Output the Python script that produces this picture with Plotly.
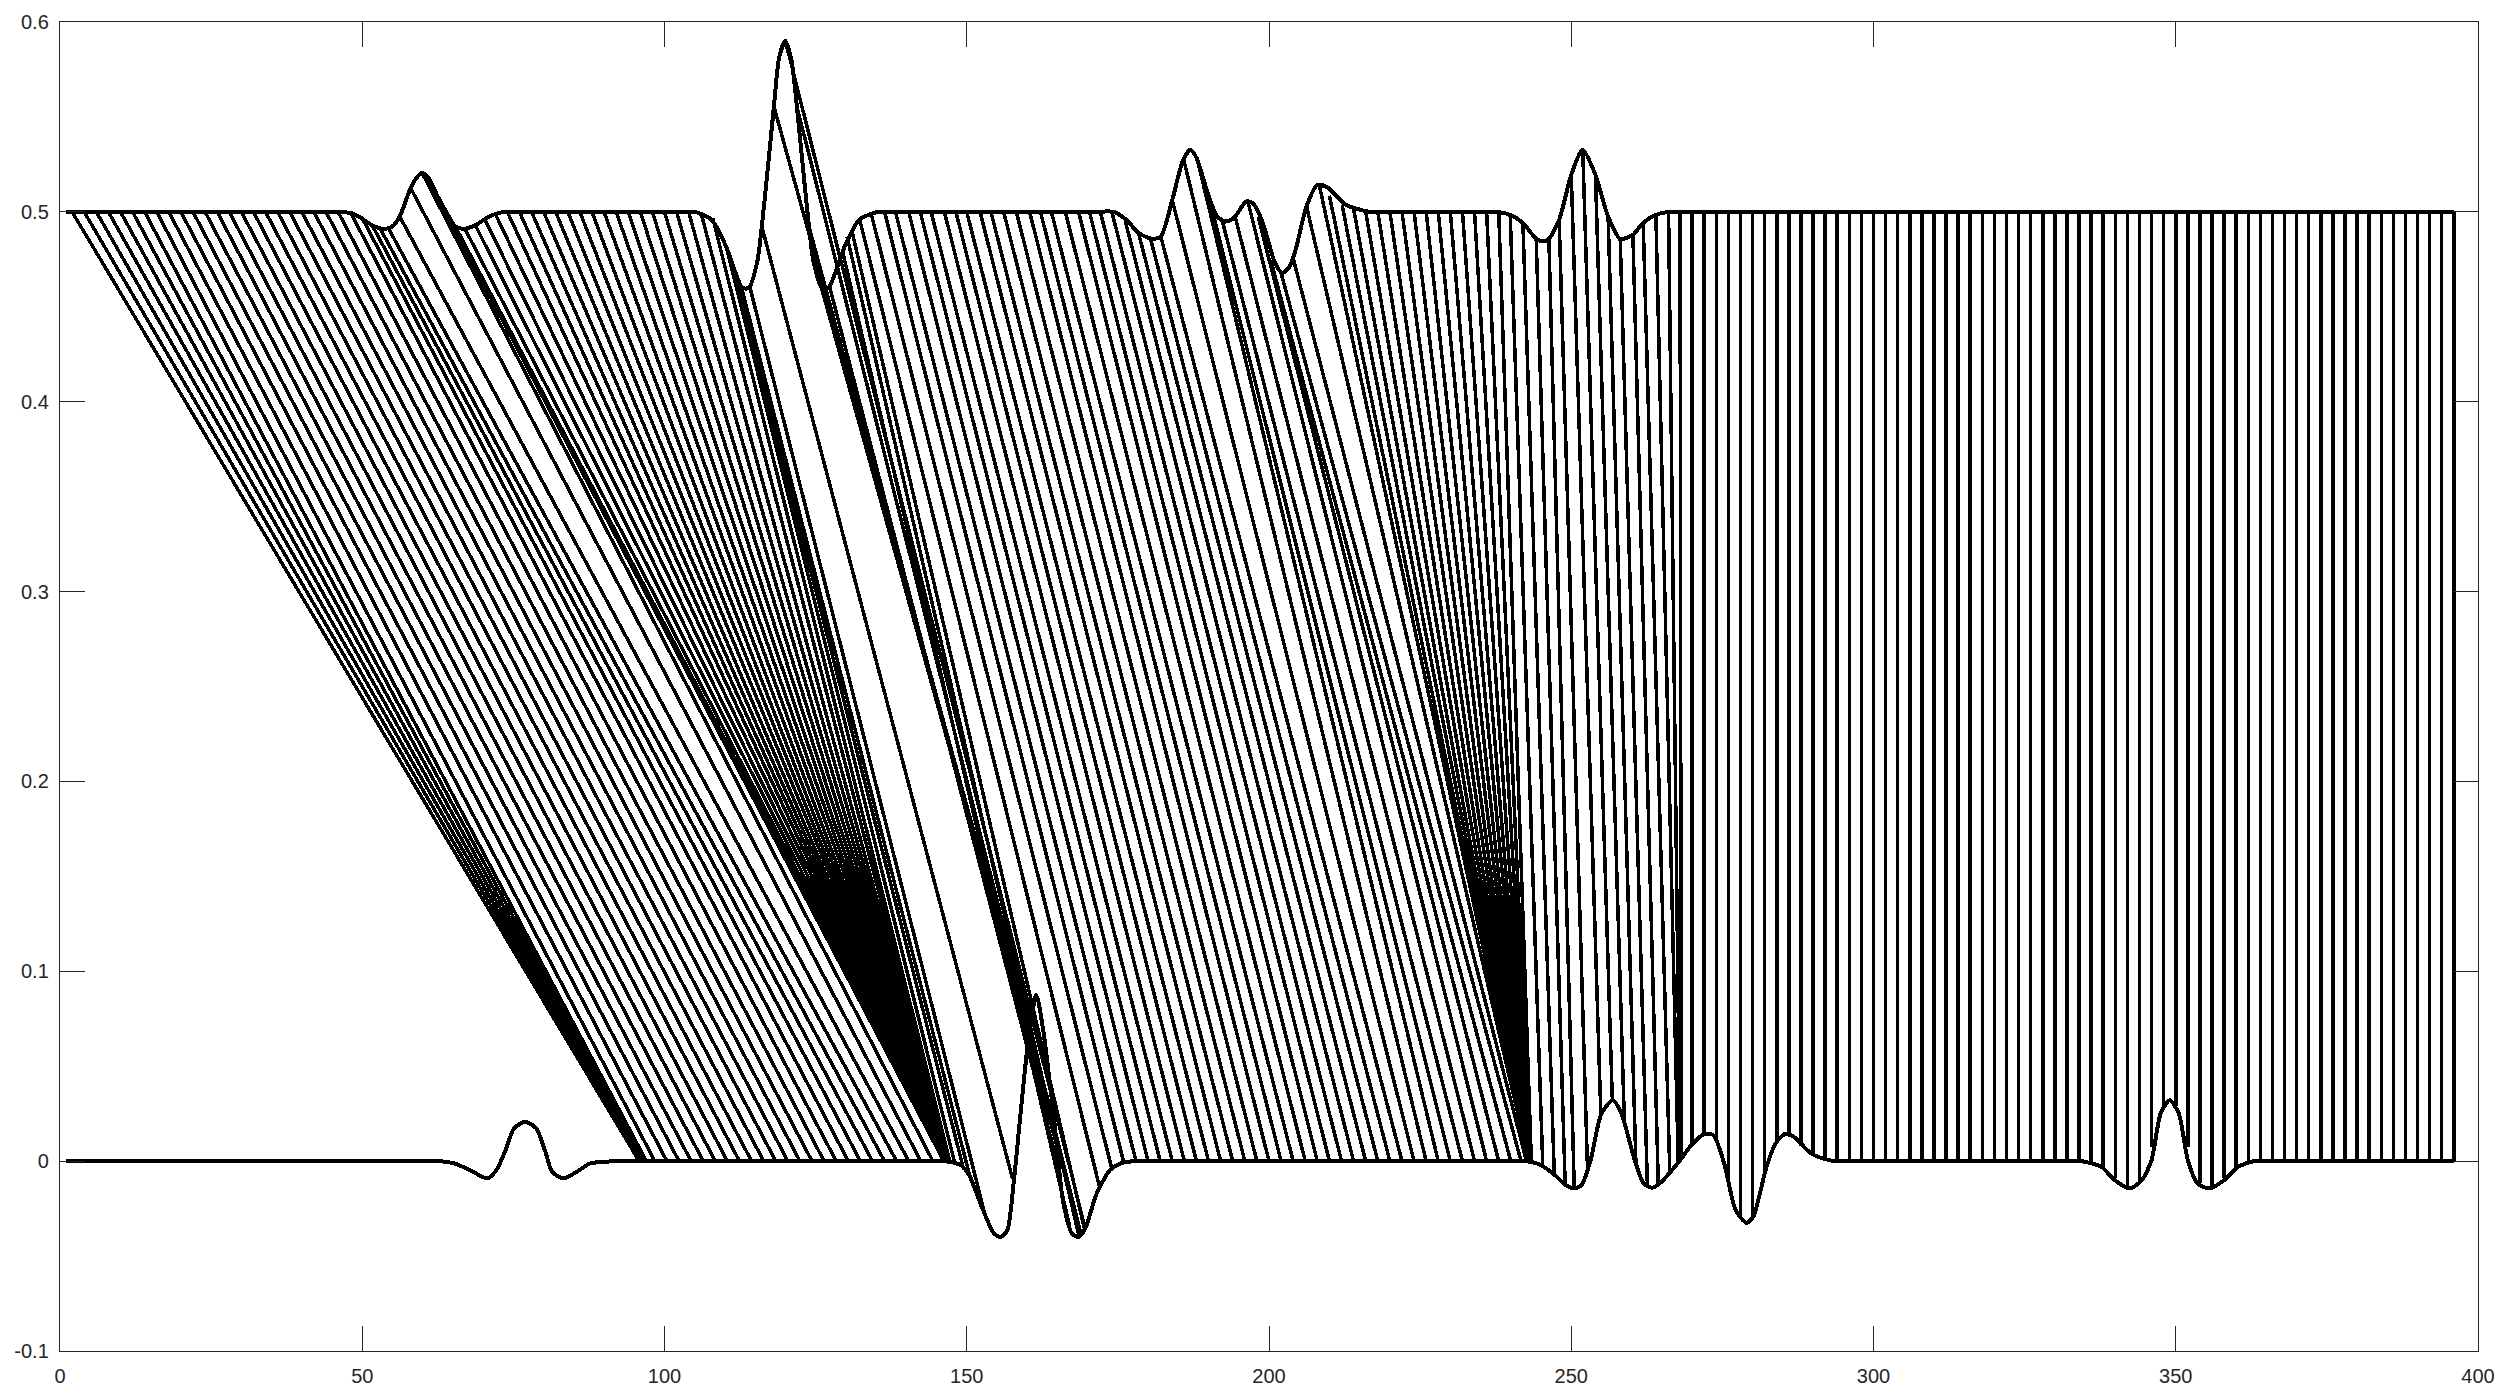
import plotly.graph_objects as go

# Upper and lower profile curves
upper_x = [1,40,44,46.5,48.5,49.9,51.5,53.5,55,56.2,58,59,59.9,61,62.5,64,65.4,66.9,68.7,71.3,73.5,76,79,99,102.5,105,107.8,110.2,112.7,113.4,114.1,115.4,116.1,116.9,118.1,119,120,121,121.9,123.1,123.9,124.6,125.9,126.6,127.3,129.8,132.2,135.3,137.5,140,168,171.5,174.3,176.5,178.4,180.6,182.1,184,185.8,187,188,190.1,191.4,192.8,194.2,196.2,197.3,198.8,201,202.2,203.4,204.4,206.2,208,209.8,212.7,216.7,219,222,231,235,237.8,239.9,242,244.2,245.4,246.3,248,250,251.9,254,256.1,258.1,260.2,261.9,264,266.1,268.5,272,396]
upper_y = [.5,.5,.5,.5,.499,.4966,.4932,.491,.4924,.4975,.5126,.518,.5205,.5178,.508,.4994,.4923,.491,.493,.498,.5,.5,.5,.5,.5,.5,.4958,.4817,.4607,.4595,.4607,.4747,.4923,.5169,.5555,.5819,.59,.58,.5555,.5169,.4923,.4747,.4607,.4595,.4607,.4817,.4958,.5,.5,.5,.5,.5,.5,.4955,.4889,.4858,.487,.5063,.5274,.5327,.5285,.5075,.4976,.4949,.4968,.5054,.5047,.4958,.4731,.4678,.4712,.48,.5028,.5142,.5126,.5037,.5,.5,.5,.5,.5,.5,.4984,.4942,.4858,.4845,.4858,.4958,.5195,.5327,.5195,.4975,.4858,.4879,.4942,.4984,.5,.5,.5,.5]

lower_x = [1,56,60,62.6,65.2,67.8,70.7,72.2,73.7,75.1,77,78.8,80.3,81.4,83.3,85.5,87.7,89.9,92.1,95,98,140,143.5,146.3,149,150.4,152.6,154.5,155.6,156.7,157.8,158.9,160,161.5,162.6,164.4,165.9,167.4,168.5,169.6,171.5,173.7,175.5,177.7,180,183,235,239,242.5,245,247.3,249.1,250.4,251.7,253.2,255,256.9,258.3,260.5,262,263.3,264.6,267.6,270.1,272,273.5,275.3,277.2,279,280.1,282.3,283.8,285.3,286.8,289.7,292.7,294.2,297,300,328,331.5,334.4,337.7,339.9,342.4,344.4,346,347.5,349,350.5,352,353.6,355.6,358,360.3,363,365.5,369,396]
lower_y = [0,0,0,0,-.0012,-.0047,-.0091,-.0047,.0058,.0172,.0207,.0172,.0049,-.0056,-.0091,-.0056,-.0012,-.0004,0,0,0,0,0,0,-.0021,-.0074,-.025,-.0381,-.0399,-.0364,-.01,.025,.0585,.0875,.07,.0234,-.0205,-.0381,-.0399,-.0355,-.017,-.0047,-.0012,0,0,0,0,0,0,-.0021,-.0074,-.0126,-.0144,-.0126,.0005,.0251,.0321,.0251,.0005,-.0118,-.014,-.0118,-.0012,.0093,.0142,.0137,-.0012,-.0258,-.0325,-.0293,-.003,.0093,.0142,.0128,.004,.0005,0,0,0,0,0,0,-.003,-.01,-.0144,-.01,.0005,.0251,.0321,.0251,.0005,-.0118,-.0144,-.01,-.003,0,0,0,0]

# Connecting lines: start on the upper curve, end on the lower curve
top_x = [2,4,6,8,10,12,14,16,18,20,22,24,26,28,30,32,34,36,38,40,42,44,46,48,50,51.6,53,54.3,56.2,58,59.9,61.8,64,65.4,67,68.7,70.2,72,74,76,78,80,82,84,86,88,90,92,94,96,98,100,102,104,106,108,110.2,111.6,112.7,114.1,116.1,118.1,120,121.9,123.9,125.9,127.3,129.4,130.2,131,
132.3,134.2,136.4,138.2,140.4,142.3,144.1,146.3,148.2,150,152.2,154,156.1,158.2,160.4,162.2,164,166.3,168.5,170.3,172.1,174,176.2,178.4,180.4,182.1,184,185.9,188,190.1,192.3,194.4,196.5,198.2,200.3,202,204,206.2,208.3,210,212.1,214,216,218,220,222,224,226,228,230,232,234,236,238,
239.9,242,244.2,246.3,248,250,251.9,254,256.1,258.1,260.2,261.9,264,266.1,268,270,272,274,276,278,280,282,284,286,288,290,292,294,296,298,300,302,304,306,308,310,312,314,316,318,320,322,324,326,328,330,332,334,336,338,340,342,344,346,348,350,352,354,356,358,360,362,364,366,368,370,372,374,376,378,380,382,384,386,388,390,392,394,396]
top_y = [.5,.5,.5,.5,.5,.5,.5,.5,.5,.5,
.5,.5,.5,.5,.5,.5,.5,.5,.5,.5,
.5,.5,.5,.5,.4966,.4932,.491,.4915,.4975,.5126,
.5205,.512,.4994,.4923,.491,.493,.4965,.499,.5,.5,
.5,.5,.5,.5,.5,.5,.5,.5,.5,.5,
.5,.5,.5,.5,.5,.4965,.4817,.468,.4607,.4607,
.4923,.5555,.59,.5555,.4923,.4607,.4607,.48,.487,.49,
.4958,.499,.5,.5,.5,.5,.5,.5,.5,.5,
.5,.5,.5,.5,.5,.5,.5,.5,.5,.5,
.5,.5,.4955,.489,.4858,.487,.5063,.5274,.5295,.5075,
.495,.4975,.5055,.4975,.4745,.4678,.4755,.503,.5145,.5085,
.5035,.5015,.5,.5,.5,.5,.5,.5,.5,.5,.5,.5,.5,.5,
.4984,.4942,.4858,.4858,.4958,.5195,.5327,.5195,.4975,.4858,.4879,.4942,.4984,.5,.5,
.5,.5,.5,.5,.5,.5,.5,.5,.5,.5,
.5,.5,.5,.5,.5,.5,.5,.5,.5,.5,
.5,.5,.5,.5,.5,.5,.5,.5,.5,.5,
.5,.5,.5,.5,.5,.5,.5,.5,.5,.5,
.5,.5,.5,.5,.5,.5,.5,.5,.5,.5,
.5,.5,.5,.5,.5,.5,.5,.5,.5,.5,
.5,.5,.5,.5]
bottom_x = [95.8,96,96.2,96.4,96.6,96.8,97,98.4,100.4,102.4,104.4,106.4,108.4,110.4,112.4,114.4,116.4,118.4,120.4,122.4,124.4,126.4,128.4,130.4,132.4,134.4,136.4,138.4,140.4,142.4,144.4,146.2,146.6,146.7,146.8,146.85,146.9,146.9,146.9,146.9,146.9,146.9,146.95,146.95,146.95,146.95,147,147,147,147,147,147,147,147,147.1,147.2,148,149.5,150.5,153,157.6,164.5,169.6,169,165,164.6,165.4,167,168.6,169.5,
172,174,176,178,180,182,184,186,188,190,192,194,196,198,200,202,204,206,208,210,212,214,216,218,220,222,224,226,228,230,232,234,236,238,240,241.7,242.6,243,243,243,243,243,243.05,243.05,243.1,243.1,243.15,243.15,243.2,243.2,243.25,243.3,243.3,243.4,
245.3,247.2,249,250.5,252.7,254.9,256.8,258.8,260.7,262.6,264.4,266.3,267.7,268,268.2,270,272,274,276,278,280,282,284,286,288,290,292,294,296,298,300,302,304,306,308,310,312,314,316,318,320,322,324,326,328,330,332,334,336,338,340,342,344,346,348,350,352,354,356,358,360,362,364,366,368,370,372,374,376,378,380,382,384,386,388,390,392,394,396]
bottom_y = [0,0,0,0,0,0,0,0,0,0,
0,0,0,0,0,0,0,0,0,0,
0,0,0,0,0,0,0,0,0,0,
0,0,0,0,0,0,0,0,0,0,
0,0,0,0,0,0,0,0,0,0,
0,0,0,0,0,0,-.0007,-.0045,-.0078,-.028,
-.0095,.02,-.0355,-.0395,.007,.018,-.006,-.034,-.04,-.036,
-.014,-.004,-.001,0,0,0,0,0,0,0,
0,0,0,0,0,0,0,0,0,0,
0,0,0,0,0,0,0,0,0,0,
0,0,0,0,0,0,0,0,0,0,
0,0,0,0,0,0,0,0,0,0,
0,0,0,0,
-.003,-.0072,-.0125,-.0144,-.005,.024,.032,.02,-.001,-.013,-.012,-.005,-.0015,-.0005,.001,
.009,.0142,.012,-.01,-.03,-.03,-.007,.01,.0135,.008,.0035,.001,
0,0,0,0,0,0,0,0,0,0,0,0,0,0,0,0,0,0,0,0,0,
-.001,-.0035,-.009,-.0144,-.0115,.0075,.029,.029,.0075,-.0115,-.0144,-.009,-.0035,-.001,
0,0,0,0,0,0,0,0,0,0,0,0,0,0,0,0,0]

assert len(top_x) == len(top_y) == len(bottom_x) == len(bottom_y), (len(top_x), len(top_y), len(bottom_x), len(bottom_y))
assert len(upper_x) == len(upper_y) and len(lower_x) == len(lower_y), (len(upper_x), len(upper_y), len(lower_x), len(lower_y))

x_ticks = [0,50,100,150,200,250,300,350,400]
y_ticks = [-.1,0,.1,.2,.3,.4,.5,.6]
y_labels = ["-0.1","0","0.1","0.2","0.3","0.4","0.5","0.6"]

seg_x, seg_y = [], []
for a, b, c, d in zip(top_x, top_y, bottom_x, bottom_y):
    seg_x += [a, c, None]
    seg_y += [b, d, None]

fig = go.Figure()
fig.add_trace(go.Scatter(x=seg_x, y=seg_y, mode="lines", line=dict(color="black", width=3.5), hoverinfo="skip"))
fig.add_trace(go.Scatter(x=upper_x, y=upper_y, mode="lines", line=dict(color="black", width=4, shape="spline", smoothing=0.7), hoverinfo="skip"))
fig.add_trace(go.Scatter(x=lower_x, y=lower_y, mode="lines", line=dict(color="black", width=4, shape="spline", smoothing=0.7), hoverinfo="skip"))

axis = dict(showgrid=False, zeroline=False, showline=True, linecolor="#262626", linewidth=1.4,
            mirror="ticks", ticks="inside", ticklen=25, tickwidth=1.4, tickcolor="#262626",
            tickfont=dict(family="Liberation Sans", size=20, color="#262626"))
fig.update_xaxes(range=[0, 400], tickvals=x_ticks, ticktext=[str(v) for v in x_ticks], ticklabelstandoff=7, **axis)
fig.update_yaxes(range=[-.1, .6], tickvals=y_ticks, ticktext=y_labels, ticklabelstandoff=6, **axis)
fig.update_layout(width=2514, height=1400, autosize=False, showlegend=False,
                  paper_bgcolor="white", plot_bgcolor="white",
                  margin=dict(l=60, r=36, t=22, b=49))
fig.write_html("out.html", config={"displayModeBar": False},
               post_script="document.body.style.margin='0';document.querySelectorAll('.scatterlayer path').forEach(function(p){p.style.shapeRendering='crispEdges';});")
